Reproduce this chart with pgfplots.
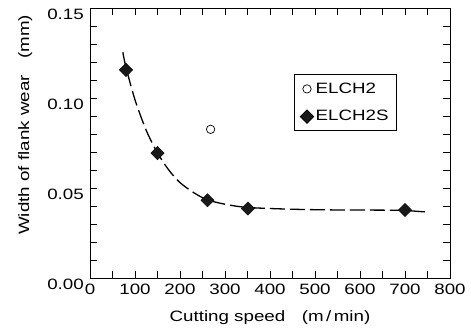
\documentclass[border=0pt]{standalone}
\usepackage{pgfplots}
\pgfplotsset{compat=1.18}
\usepackage{fontspec}
\setmainfont{Liberation Sans}[FakeStretch=1.25]
\begin{document}
\fontsize{15bp}{18bp}\selectfont
\begin{tikzpicture}
\begin{axis}[
  scale only axis, width=360bp, height=270bp,
  xmin=0, xmax=800, ymin=0, ymax=0.15,
  xtick={0,100,...,800}, minor xtick={50,150,...,750},
  ytick={0,0.05,0.10,0.15}, minor ytick={0.01,0.02,0.03,0.04,0.06,0.07,0.08,0.09,0.11,0.12,0.13,0.14},
  tick align=inside, major tick length=7bp, minor tick length=7bp,
  tick style={black, line width=0.6bp},
  axis line style={line width=0.8bp},
  /pgf/number format/assume math mode=true,
  /pgf/number format/.cd, fixed, fixed zerofill, precision=2, /pgfplots/.cd,
  xticklabel={\pgfmathprintnumber[fixed,precision=0]{\tick}},
  yticklabel style={xshift=-1bp, yshift=-6bp},
  xticklabel style={yshift=-1bp},
  xlabel={Cutting speed\hspace{1.1em}(m\,/\,min)},
  ylabel={Width of flank wear\hspace{1.1em}(mm)},
  xlabel style={at={(axis description cs:0.5,-0.145)}, anchor=center},
  ylabel style={at={(axis description cs:-0.18,0.567)}, anchor=center},
  legend style={at={(axis cs:453,0.1133)}, anchor=north west, draw=black, fill=white,
    line width=1bp, font=\fontsize{15bp}{17bp}\selectfont, row sep=11bp,
    inner xsep=6bp, inner ysep=6bp},
  legend cell align=left,
]
\addplot[only marks, mark=o, mark size=4.2bp, mark options={line width=0.7bp, black}]
  coordinates {(268,0.0826)};
\addlegendentry{ELCH2}
\addplot[only marks, mark=square*, mark size=4.7bp, mark options={rotate=45, fill=black!90, draw=black}]
  coordinates {(80,0.1156) (150,0.0694) (261,0.0432) (351,0.0386) (700,0.0378)};
\addlegendentry{ELCH2S}
\addplot[black, line width=1.3bp, dash pattern=on 15bp off 5bp, smooth, forget plot]
  coordinates {(73,0.1254) (80,0.117) (100,0.099) (125,0.082) (150,0.0695) (175,0.060) (200,0.053) (230,0.0475) (260,0.0435) (300,0.041) (350,0.0392) (450,0.0382) (550,0.0378) (650,0.0377) (700,0.0375) (745,0.0367)};
\end{axis}
\pgfresetboundingbox
\path[use as bounding box] (-90bp,-57bp) rectangle (381bp,278bp);
\end{tikzpicture}
\end{document}
